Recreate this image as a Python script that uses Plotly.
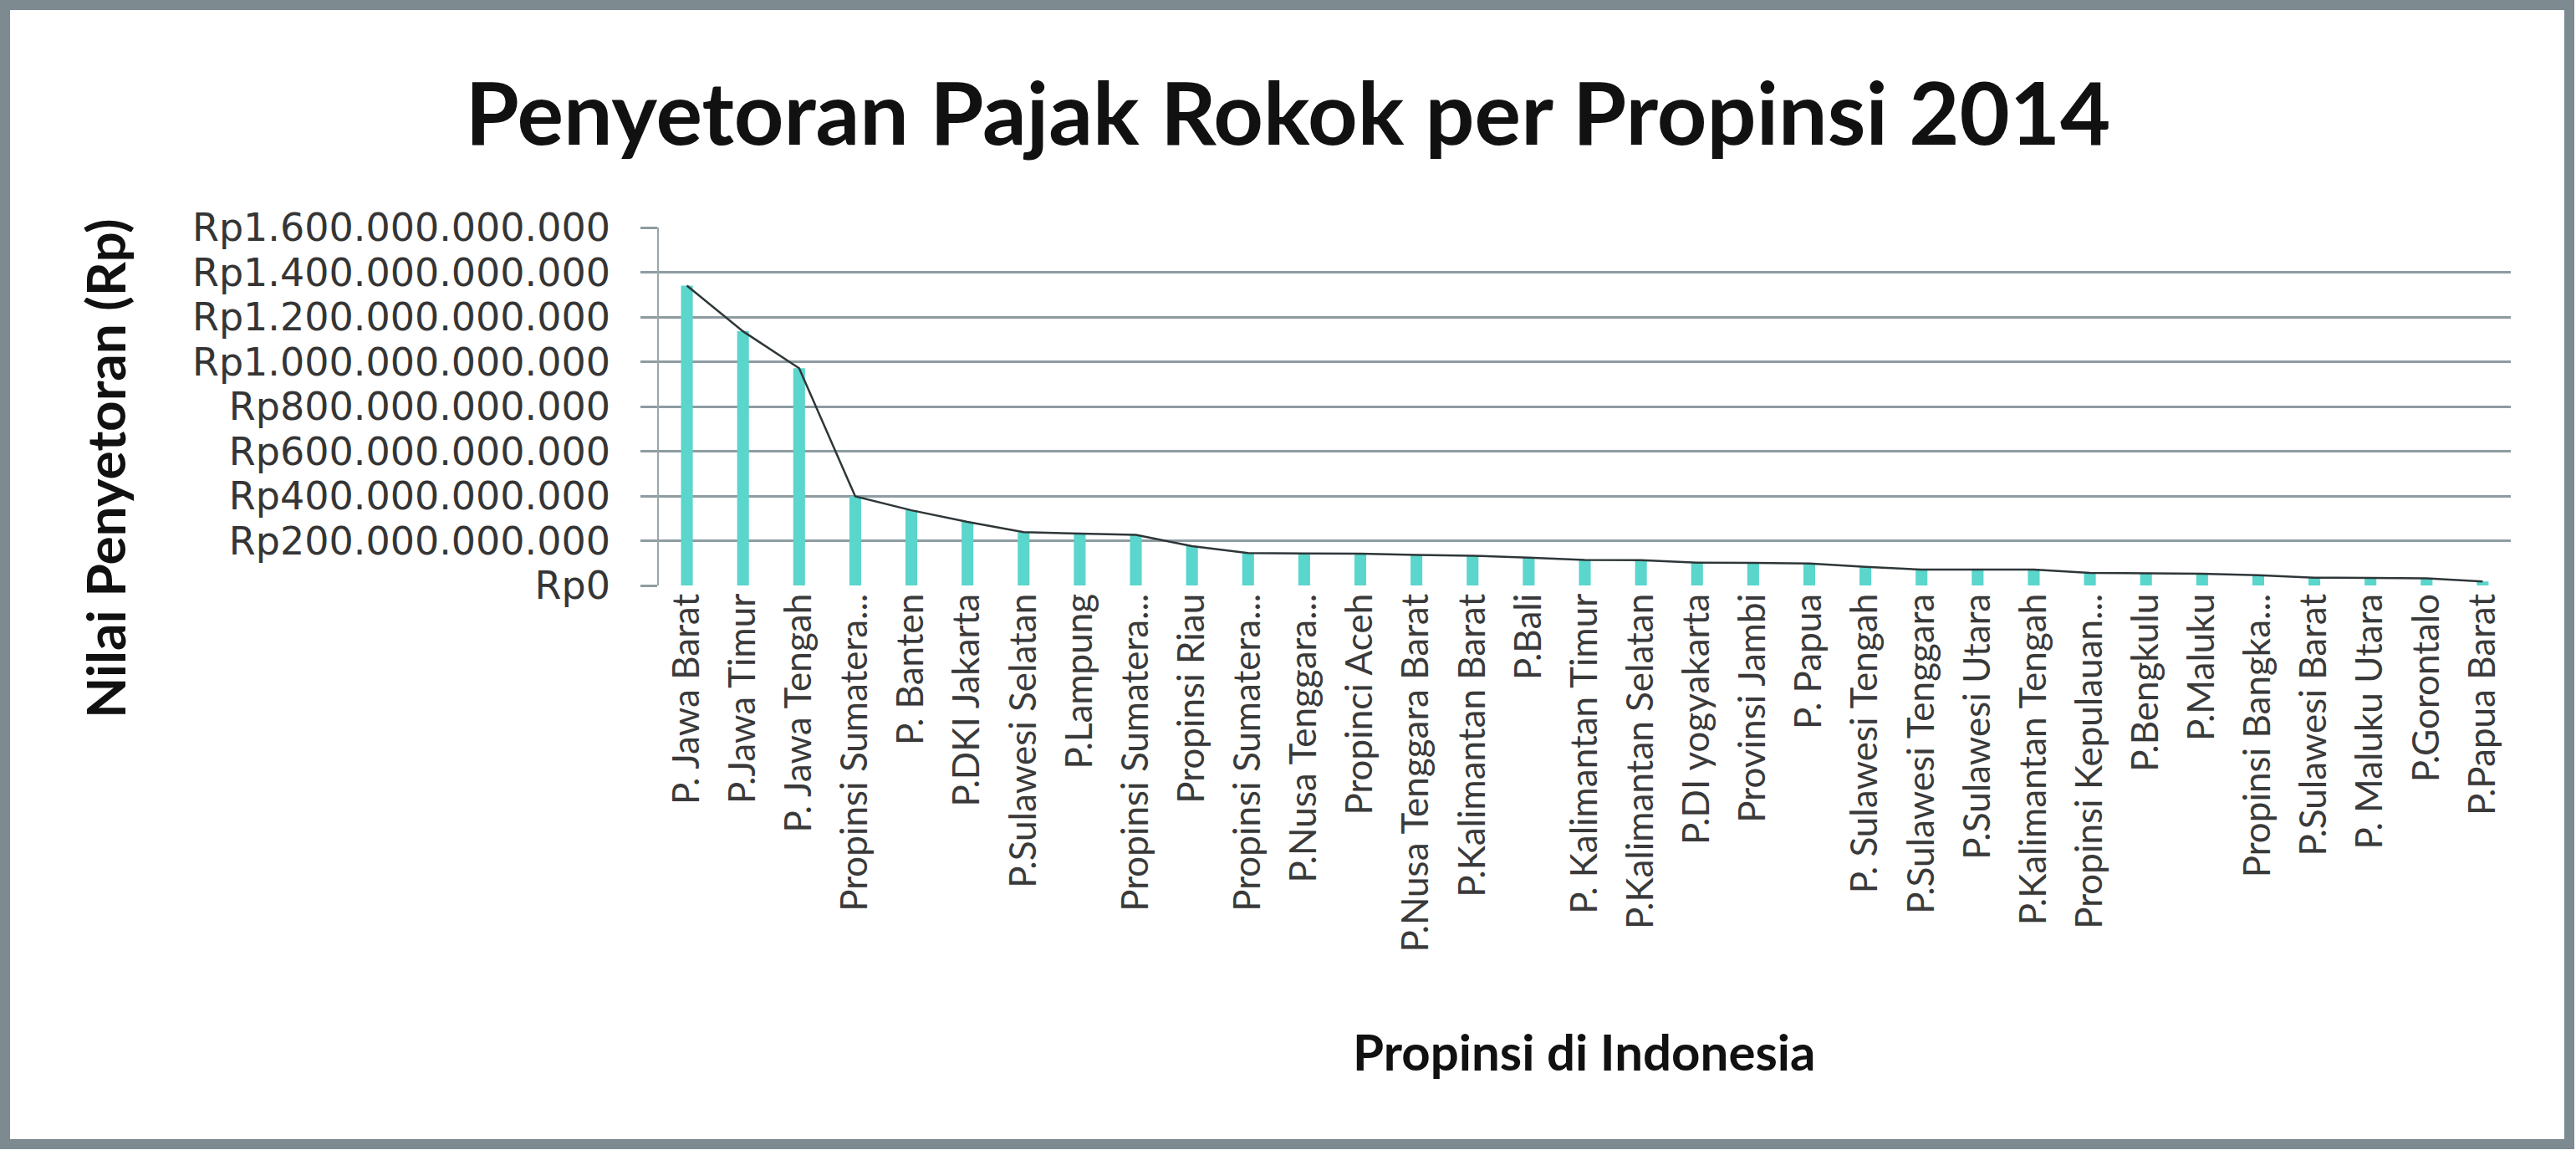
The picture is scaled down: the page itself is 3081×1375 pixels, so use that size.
import plotly.graph_objects as go

# data (values in billion Rp)
provinces = [
    "P. Jawa Barat", "P.Jawa Timur", "P. Jawa Tengah", "Propinsi Sumatera...",
    "P. Banten", "P.DKI Jakarta", "P.Sulawesi Selatan", "P.Lampung",
    "Propinsi Sumatera...", "Propinsi Riau", "Propinsi Sumatera...",
    "P.Nusa Tenggara...", "Propinci Aceh", "P.Nusa Tenggara Barat",
    "P.Kalimantan Barat", "P.Bali", "P. Kalimantan Timur", "P.Kalimantan Selatan",
    "P.DI yogyakarta", "Provinsi Jambi", "P. Papua", "P. Sulawesi Tengah",
    "P.Sulawesi Tenggara", "P.Sulawesi Utara", "P.Kalimantan Tengah",
    "Propinsi Kepulauan...", "P.Bengkulu", "P.Maluku", "Propinsi Bangka...",
    "P.Sulawesi Barat", "P. Maluku Utara", "P.Gorontalo", "P.Papua Barat",
]
setoran_miliar = [
    1340, 1136, 971, 398, 336, 284, 238, 232, 226, 176, 145, 143, 142, 136,
    133, 124, 114, 113, 102, 101, 98, 83, 71, 71, 71, 56, 53, 52, 46, 35,
    34, 32, 18,
]
y_ticks_miliar = [0, 200, 400, 600, 800, 1000, 1200, 1400, 1600]
y_tick_labels = [
    "Rp0", "Rp200.000.000.000", "Rp400.000.000.000", "Rp600.000.000.000",
    "Rp800.000.000.000", "Rp1.000.000.000.000", "Rp1.200.000.000.000",
    "Rp1.400.000.000.000", "Rp1.600.000.000.000",
]

setoran = [v * 1e9 for v in setoran_miliar]
yticks = [v * 1e9 for v in y_ticks_miliar]
idx = list(range(len(provinces)))

W, H = 3081, 1375
L, R, T, B = 788, 78, 272, 675
pw, ph = W - L - R, H - T - B


def px(x):
    return (x - L) / pw


def py(y):
    return (H - B - y) / ph


grid = "#8E9CA1"

fig = go.Figure()
fig.add_trace(go.Bar(x=idx, y=setoran, marker_color="#5AD6CC",
                     marker_line_width=0, width=0.21))
fig.add_trace(go.Scatter(x=idx, y=setoran, mode="lines",
                         line=dict(color="#2E3638", width=2.5)))

fig.update_layout(
    width=W, height=H,
    margin=dict(l=L, r=R, t=T, b=B),
    paper_bgcolor="white", plot_bgcolor="white",
    showlegend=False,
    font=dict(family="Lato", color="#3A3A3A"),
    title=dict(text="<b>Penyetoran Pajak Rokok per Propinsi 2014</b>",
               x=0.5, xanchor="center", y=1 - 137 / H, yanchor="middle",
               font=dict(family="Lato", size=104, color="#111111")),
)
fig.update_xaxes(
    tickmode="array", tickvals=idx, ticktext=provinces, tickangle=-90,
    range=[-0.5, len(provinces) - 0.5], showgrid=False, zeroline=False,
    showline=False, ticks="", tickfont=dict(size=44, color="#3A3A3A"),
)
fig.update_yaxes(
    tickmode="array", tickvals=yticks, ticktext=y_tick_labels,
    range=[0, 1.6e12], showgrid=True, gridcolor=grid, gridwidth=3,
    zeroline=False, showline=True, linecolor="#9AA6AA", linewidth=1.5,
    ticks="outside", ticklen=20, tickwidth=3, tickcolor=grid,
    ticklabelstandoff=27,
    tickfont=dict(family="DejaVu Sans", size=46, color="#353535"),
)

# axis titles placed like the reference
fig.add_annotation(text="<b>Nilai Penyetoran (Rp)</b>", xref="paper", yref="paper",
                   x=px(125), y=py(560), textangle=-90, showarrow=False,
                   xanchor="center", yanchor="middle",
                   font=dict(family="Lato", size=64, color="#111111"))
fig.add_annotation(text="<b>Propinsi di Indonesia</b>", xref="paper", yref="paper",
                   x=px(1895), y=py(1257), showarrow=False,
                   xanchor="center", yanchor="middle",
                   font=dict(family="Lato", size=60, color="#111111"))

# outer frame
fig.add_shape(type="rect", xref="paper", yref="paper",
              x0=px(6), x1=px(W - 8), y0=py(H - 7), y1=py(6),
              line=dict(color="#7D8B91", width=12), fillcolor="rgba(0,0,0,0)",
              layer="above")

fig.write_html("out.html", config={"displayModeBar": False},
               post_script="document.body.style.margin='0';")
